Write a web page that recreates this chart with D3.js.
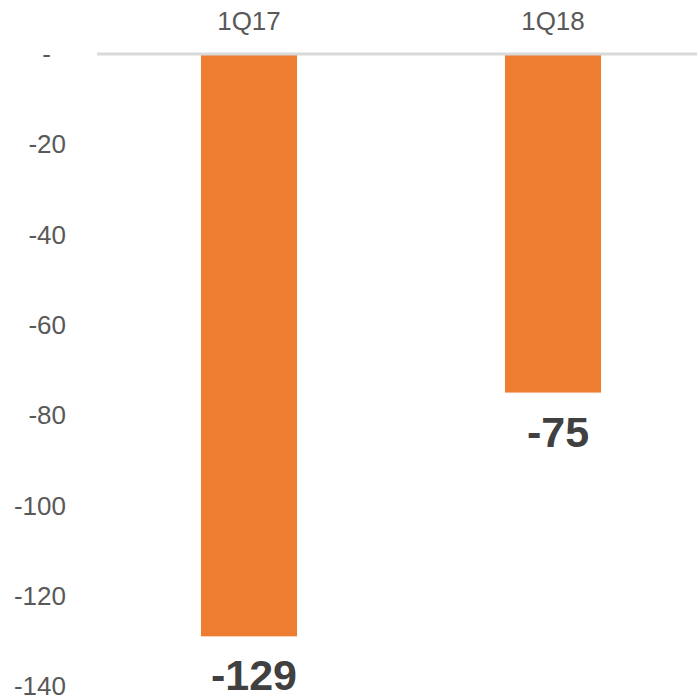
<!DOCTYPE html>
<html>
<head>
<meta charset="utf-8">
<script src="https://cdn.jsdelivr.net/npm/d3@7"></script>
<style>
  body { margin: 0; background: #fff; }
  text { font-family: "Liberation Sans", Arial, sans-serif; }
</style>
</head>
<body>
<div id="chart"></div>
<script>
// Data
const categories = ["1Q17", "1Q18"];
const values = [-129, -75];
const yTicks = [0, -20, -40, -60, -80, -100, -120, -140];

const width = 697, height = 696;

const svg = d3.select("#chart")
  .append("svg")
  .attr("width", width)
  .attr("height", height);

// Scales
const x = d3.scaleBand()
  .domain(categories)
  .range([97, 705])
  .paddingInner(0.684)
  .paddingOuter(0.342);

const y = d3.scaleLinear()
  .domain([0, -140])
  .range([54, 686]);

// Y tick labels (no axis line)
svg.append("g")
  .selectAll("text")
  .data(yTicks)
  .enter().append("text")
  .attr("x", d => d === 0 ? 51 : 66)
  .attr("y", d => y(d))
  .attr("dy", "0.35em")
  .attr("text-anchor", "end")
  .attr("fill", "#595959")
  .style("font-size", "26px")
  .text(d => d === 0 ? "-" : d);

// Bars
svg.append("g")
  .selectAll("rect")
  .data(values)
  .enter().append("rect")
  .attr("x", (d, i) => x(categories[i]))
  .attr("y", y(0))
  .attr("width", x.bandwidth())
  .attr("height", d => y(d) - y(0))
  .attr("fill", "#ED7D31");

// Zero line
svg.append("line")
  .attr("x1", 97)
  .attr("x2", width)
  .attr("y1", y(0))
  .attr("y2", y(0))
  .attr("stroke", "#D9D9D9")
  .attr("stroke-width", 3);

// Category labels on top
svg.append("g")
  .selectAll("text")
  .data(categories)
  .enter().append("text")
  .attr("x", d => x(d) + x.bandwidth() / 2)
  .attr("y", 21)
  .attr("dy", "0.35em")
  .attr("text-anchor", "middle")
  .attr("fill", "#595959")
  .style("font-size", "26px")
  .text(d => d);

// Data labels
svg.append("g")
  .selectAll("text")
  .data(values)
  .enter().append("text")
  .attr("x", (d, i) => x(categories[i]) + x.bandwidth() / 2 + 5)
  .attr("y", d => y(d) + 54)
  .attr("text-anchor", "middle")
  .attr("fill", "#404040")
  .style("font-size", "43px")
  .style("font-weight", "bold")
  .text(d => d);
</script>
</body>
</html>
